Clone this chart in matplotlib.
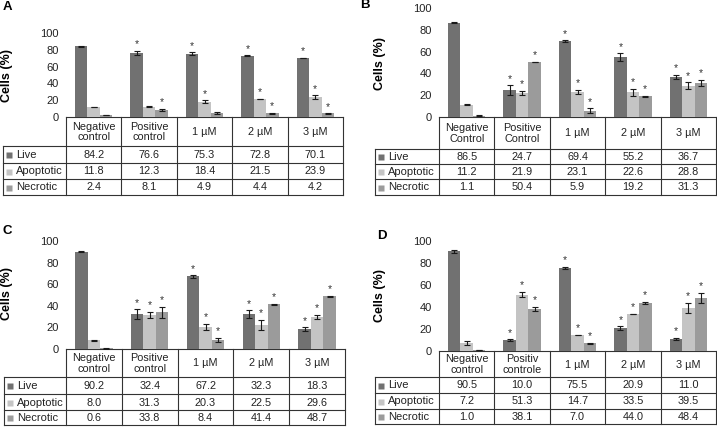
import matplotlib.pyplot as plt

plt.rcParams['font.family'] = ['Liberation Sans', 'DejaVu Sans']

# 数据：四个面板，每组 Live / Apoptotic / Necrotic
series_names = ['Live', 'Apoptotic', 'Necrotic']
series_colors = ['#717171', '#c4c4c4', '#9b9b9b']
dose_labels = ['1 µM', '2 µM', '3 µM']

categories_A = ['Negative\ncontrol', 'Positive\ncontrol'] + dose_labels
live_A = [84.2, 76.6, 75.3, 72.8, 70.1]
apop_A = [11.8, 12.3, 18.4, 21.5, 23.9]
necr_A = [2.4, 8.1, 4.9, 4.4, 4.2]
err_live_A = [0.5, 2.5, 2.0, 0.5, 0.3]
err_apop_A = [0.3, 0.5, 1.5, 0.5, 2.0]
err_necr_A = [0.3, 1.5, 1.0, 0.8, 0.5]
star_live_A = [0, 1, 1, 1, 1]
star_apop_A = [0, 0, 1, 1, 1]
star_necr_A = [0, 1, 0, 1, 1]

categories_B = ['Negative\nControl', 'Positive\nControl'] + dose_labels
live_B = [86.5, 24.7, 69.4, 55.2, 36.7]
apop_B = [11.2, 21.9, 23.1, 22.6, 28.8]
necr_B = [1.1, 50.4, 5.9, 19.2, 31.3]
err_live_B = [0.3, 4.5, 1.0, 3.5, 2.0]
err_apop_B = [0.5, 2.0, 2.0, 3.5, 3.0]
err_necr_B = [0.3, 0.3, 2.0, 0.5, 3.0]
star_live_B = [0, 1, 1, 1, 1]
star_apop_B = [0, 1, 1, 1, 1]
star_necr_B = [0, 1, 1, 1, 1]

categories_C = ['Negative\ncontrol', 'Positive\ncontrol'] + dose_labels
live_C = [90.2, 32.4, 67.2, 32.3, 18.3]
apop_C = [8.0, 31.3, 20.3, 22.5, 29.6]
necr_C = [0.6, 33.8, 8.4, 41.4, 48.7]
err_live_C = [0.5, 4.5, 1.0, 3.5, 2.0]
err_apop_C = [0.5, 3.0, 3.0, 4.5, 2.0]
err_necr_C = [0.2, 5.5, 2.0, 0.5, 0.5]
star_live_C = [0, 1, 1, 1, 1]
star_apop_C = [0, 1, 1, 1, 1]
star_necr_C = [0, 1, 1, 1, 1]

categories_D = ['Negative\ncontrol', 'Positiv\ncontrole'] + dose_labels
live_D = [90.5, 10.0, 75.5, 20.9, 11.0]
apop_D = [7.2, 51.3, 14.7, 33.5, 39.5]
necr_D = [1.0, 38.1, 7.0, 44.0, 48.4]
err_live_D = [1.0, 0.5, 1.0, 1.5, 1.0]
err_apop_D = [1.5, 2.5, 0.3, 0.3, 4.5]
err_necr_D = [0.3, 2.0, 0.5, 1.0, 4.5]
star_live_D = [0, 1, 1, 1, 1]
star_apop_D = [0, 1, 1, 1, 1]
star_necr_D = [0, 1, 1, 1, 1]

# 版面（像素）：x0, x1, y(100), y(0), 表头底, 三行底, 行标签左边
W, H = 717, 429
layout = {
    'A': dict(x0=66, x1=343, ytop=33, ybot=117, hdr=146, rows=[163, 179, 195], lab=3,
              ylab=(7, 75), letter=(3, 7)),
    'B': dict(x0=439, x1=716, ytop=8, ybot=117, hdr=149, rows=[164, 179, 195], lab=375,
              ylab=(380, 63), letter=(360, 5)),
    'C': dict(x0=66, x1=345, ytop=241, ybot=349, hdr=377, rows=[394, 410, 425], lab=4,
              ylab=(7, 294), letter=(3, 231)),
    'D': dict(x0=439, x1=716, ytop=241, ybot=351, hdr=377, rows=[393, 409, 424], lab=375,
              ylab=(380, 296), letter=(377, 236)),
}

panels = {
    'A': (categories_A, [live_A, apop_A, necr_A], [err_live_A, err_apop_A, err_necr_A],
          [star_live_A, star_apop_A, star_necr_A]),
    'B': (categories_B, [live_B, apop_B, necr_B], [err_live_B, err_apop_B, err_necr_B],
          [star_live_B, star_apop_B, star_necr_B]),
    'C': (categories_C, [live_C, apop_C, necr_C], [err_live_C, err_apop_C, err_necr_C],
          [star_live_C, star_apop_C, star_necr_C]),
    'D': (categories_D, [live_D, apop_D, necr_D], [err_live_D, err_apop_D, err_necr_D],
          [star_live_D, star_apop_D, star_necr_D]),
}

fig = plt.figure(figsize=(W / 100, H / 100), dpi=100)

# 覆盖整张图的像素坐标轴，用来画表格
ov = fig.add_axes([0, 0, 1, 1])
ov.set_xlim(0, W)
ov.set_ylim(H, 0)
ov.axis('off')

line_kw = dict(color='#333333', lw=0.8, solid_capstyle='projecting')
bar_w = 0.224

for key, (cats, vals, errs, stars) in panels.items():
    g = layout[key]
    x0, x1, ytop, ybot = g['x0'], g['x1'], g['ytop'], g['ybot']
    ax = fig.add_axes([x0 / W, 1 - ybot / H, (x1 - x0) / W, (ybot - ytop) / H])
    n = len(cats)
    for i in range(3):
        xs = [c + (i - 1) * bar_w for c in range(n)]
        ax.bar(xs, vals[i], width=bar_w, color=series_colors[i], edgecolor='none')
        ax.errorbar(xs, vals[i], yerr=errs[i], fmt='none', ecolor='#1a1a1a',
                    elinewidth=0.8, capsize=2.5, capthick=0.8)
        for x, v, e, s in zip(xs, vals[i], errs[i], stars[i]):
            if s:
                ax.annotate('*', (x, v + e), xytext=(0, 1), textcoords='offset points',
                            ha='center', va='bottom', fontsize=7.5, color='#333333')
    ax.set_xlim(-0.5, n - 0.5)
    ax.set_ylim(0, 100)
    ax.set_yticks(range(0, 101, 20))
    ax.set_xticks([])
    ax.tick_params(axis='y', length=0, labelsize=8, pad=5, labelcolor='#222222')
    for sp in ax.spines.values():
        sp.set_visible(False)
    ax.patch.set_alpha(0)

    # 面板字母和 y 轴标题
    fig.text(g['letter'][0] / W, 1 - g['letter'][1] / H, key, fontsize=9.5,
             fontweight='bold', ha='left', va='center')
    fig.text(g['ylab'][0] / W, 1 - g['ylab'][1] / H, 'Cells (%)', fontsize=9,
             fontweight='bold', rotation=90, ha='center', va='center')

    # 表格
    col_w = (x1 - x0) / n
    col_x = [x0 + k * col_w for k in range(n + 1)]
    hdr, rows, lab = g['hdr'], g['rows'], g['lab']
    # 横线
    ov.plot([x0, x1], [ybot, ybot], **line_kw)
    ov.plot([lab, x1], [hdr, hdr], **line_kw)
    for r in rows:
        ov.plot([lab, x1], [r, r], **line_kw)
    # 竖线
    ov.plot([lab, lab], [hdr, rows[-1]], **line_kw)
    for cx in col_x:
        ov.plot([cx, cx], [ybot, rows[-1]], **line_kw)
    # 表头文字
    for k, c in enumerate(cats):
        ov.text((col_x[k] + col_x[k + 1]) / 2, (ybot + hdr) / 2 + 0.5, c, ha='center',
                va='center', fontsize=7.8, linespacing=1.05, color='#222222')
    # 行
    tops = [hdr] + rows[:-1]
    for i in range(3):
        yc = (tops[i] + rows[i]) / 2 + 0.5
        ov.plot(lab + 5.5, yc, marker='s', ms=4, color=series_colors[i], mec='none')
        ov.text(lab + 13, yc, series_names[i], ha='left', va='center', fontsize=8,
                color='#222222')
        for k in range(n):
            ov.text((col_x[k] + col_x[k + 1]) / 2, yc, f'{vals[i][k]:.1f}', ha='center',
                    va='center', fontsize=7.8, color='#222222')

fig.savefig('out.png', dpi=100)
